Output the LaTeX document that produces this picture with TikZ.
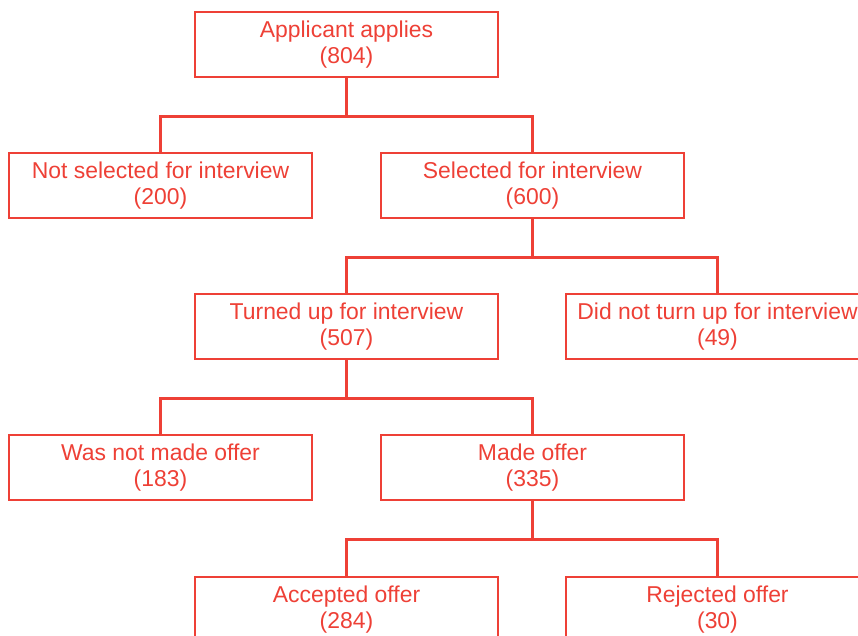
\documentclass[tikz,border=0pt]{standalone}
\usepackage{fontspec}
\setmainfont{Liberation Sans}
\usetikzlibrary{positioning,calc}
\definecolor{flowred}{RGB}{238,64,54}

\begin{document}
\begin{tikzpicture}[
      x=0.025cm,y=-0.025cm,
      every node/.style={font=\fontsize{16.3}{18}\selectfont,text=flowred},
      box/.style={draw=flowred,line width=1.8pt,fill=white,minimum width=7.575cm,minimum height=1.625cm,inner sep=0pt,align=center},
      link/.style={draw=flowred,line width=2.4pt}
    ]
    % frame of the page, the lowest and rightmost boxes run off it
    \clip (0,0) rectangle (858,636);
    % applicants
    \node[box] (apply) at (346.5,44.5) {Applicant applies\\(804)};
    % interview selection
    \node[box] (notsel) at (160.5,185.5) {Not selected for interview\\(200)};
    \node[box] (sel) at (532.5,185.5) {Selected for interview\\(600)};
    % attendance
    \node[box] (turned) at (346.5,326.5) {Turned up for interview\\(507)};
    \node[box] (noshow) at (717.5,326.5) {Did not turn up for interview\\(49)};
    % offers
    \node[box] (nooffer) at (160.5,467.5) {Was not made offer\\(183)};
    \node[box] (offer) at (532.5,467.5) {Made offer\\(335)};
    % outcome of offers
    \node[box] (accept) at (346.5,609.5) {Accepted offer\\(284)};
    \node[box] (reject) at (717.5,609.5) {Rejected offer\\(30)};
    % connectors, each splits half way down
    \draw[link] (apply.south) -- ++(0,38) -| (notsel.north);
    \draw[link] (apply.south) -- ++(0,38) -| (sel.north);
    \draw[link] (sel.south) -- ++(0,38) -| (turned.north);
    \draw[link] (sel.south) -- ++(0,38) -| (noshow.north);
    \draw[link] (turned.south) -- ++(0,38) -| (nooffer.north);
    \draw[link] (turned.south) -- ++(0,38) -| (offer.north);
    \draw[link] (offer.south) -- ++(0,38.5) -| (accept.north);
    \draw[link] (offer.south) -- ++(0,38.5) -| (reject.north);
  \end{tikzpicture}
\end{document}
